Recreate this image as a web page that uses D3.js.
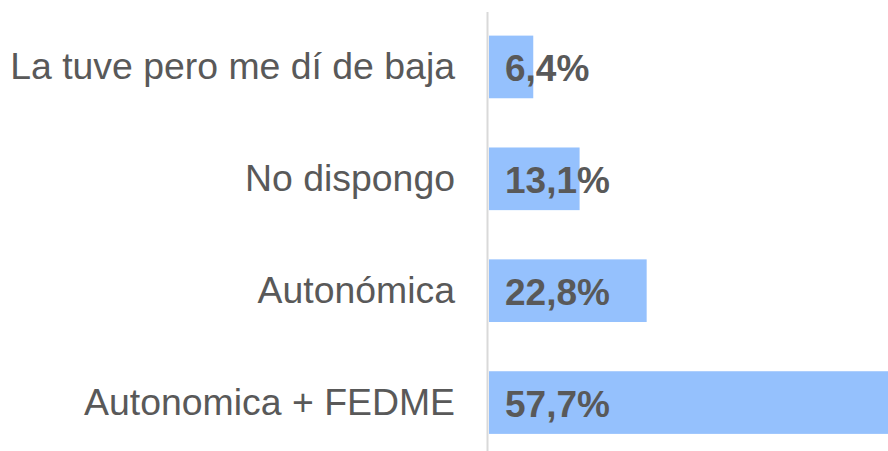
<!DOCTYPE html>
<html>
<head>
<meta charset="utf-8">
<script src="https://cdn.jsdelivr.net/npm/d3@7"></script>
<style>
  body { margin: 0; background: #fff; }
  svg { display: block; }
</style>
</head>
<body>
<svg id="chart" width="888" height="451"></svg>
<script>
// categories top -> bottom
const categories = ['La tuve pero me dí de baja', 'No dispongo', 'Autonómica', 'Autonomica + FEDME']
const values = [6.4, 13.1, 22.8, 57.7]
const valueLabels = ['6,4%', '13,1%', '22,8%', '57,7%']

const width = 888
const height = 451
const left = 489

const svg = d3.select('#chart')

const x = d3.scaleLinear().domain([0, 57.7]).range([left, width])

const y = d3
    .scaleBand()
    .domain(categories)
    .range([11, 458.5])
    .paddingInner(0.44)
    .paddingOuter(0.22)

// bars
svg.selectAll('rect.bar')
    .data(values)
    .enter()
    .append('rect')
    .attr('class', 'bar')
    .attr('x', x(0))
    .attr('y', (d, i) => y(categories[i]))
    .attr('width', (d) => x(d) - x(0))
    .attr('height', y.bandwidth())
    .attr('fill', '#95c1fd')

// vertical axis line
svg.append('line')
    .attr('x1', left - 1.5)
    .attr('x2', left - 1.5)
    .attr('y1', 12)
    .attr('y2', height)
    .attr('stroke', '#d9d9d9')
    .attr('stroke-width', 2)

// category labels
svg.selectAll('text.cat')
    .data(categories)
    .enter()
    .append('text')
    .attr('class', 'cat')
    .attr('x', 455)
    .attr('y', (d) => y(d) + y.bandwidth() / 2 + 12.5)
    .attr('text-anchor', 'end')
    .attr('font-family', "'Liberation Sans', Arial, sans-serif")
    .attr('font-size', 37.4)
    .attr('fill', '#595959')
    .text((d) => d)

// value labels
svg.selectAll('text.val')
    .data(valueLabels)
    .enter()
    .append('text')
    .attr('class', 'val')
    .attr('x', 505)
    .attr('y', (d, i) => y(categories[i]) + y.bandwidth() / 2 + 14)
    .attr('font-family', "'Liberation Sans', Arial, sans-serif")
    .attr('font-weight', 'bold')
    .attr('font-size', 37)
    .attr('fill', '#595959')
    .text((d) => d)
</script>
</body>
</html>
